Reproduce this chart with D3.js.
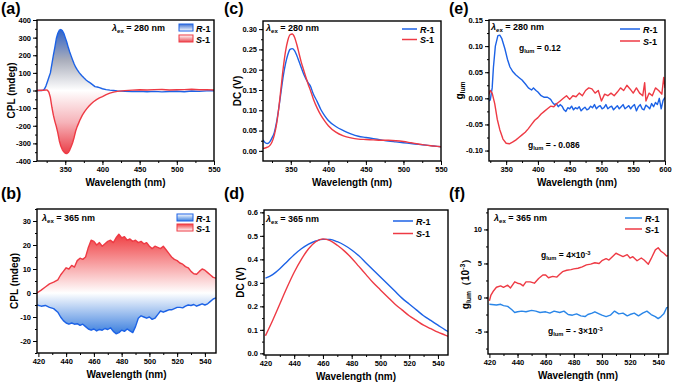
<!DOCTYPE html>
<html>
<head>
<meta charset="utf-8">
<script src="https://cdn.jsdelivr.net/npm/d3@7"></script>
<style>
body { margin: 0; background: #fff; }
text { font-family: "Liberation Sans", Arial, sans-serif; font-weight: bold; fill: #000; }
</style>
</head>
<body>
<div id="chart"></div>
<script>
// ---------- data ----------
// (a) CPL, excitation 280 nm
const aWlR  = [312,318,320,322,324,326,328,330,332,334,336,338,340,342,344,346,348,350,352,354,356,358,360,362,364,366,369,372,375,378,381,384,387,390,393,396,400,405,410,415,420,430,440,450,460,470,480,490,500,510,520,530,540,550];
const aCplR = [0,0,1,8,25,50,75,100,150,200,245,295,325,342,346,340,325,300,275,245,218,195,172,150,132,118,100,85,72,60,50,42,32,22,20,16,10,5,2,0,-2,-4,-6,-5,-7,-5,-8,-6,-4,-7,-3,-5,-2,-1];
const aWlS  = [312,320,324,326,328,330,332,334,336,338,340,342,344,346,348,350,352,354,356,358,360,362,364,366,368,370,373,376,379,382,385,388,392,396,400,405,410,415,420,430,440,450,460,470,480,490,500,510,520,530,540,550];
const aCplS = [0,1,3,2,-10,-40,-95,-140,-175,-205,-240,-285,-315,-335,-348,-356,-358,-352,-338,-318,-295,-265,-230,-205,-185,-165,-140,-120,-103,-88,-75,-64,-52,-42,-35,-24,-15,-9,-5,-1,2,4,3,5,6,3,4,5,7,4,5,3];

// (c) DC, excitation 280 nm
const cWl  = [313,316,319,322,325,328,331,334,337,340,343,346,349,352,355,358,361,364,367,370,373,376,380,385,390,395,400,410,420,430,440,450,460,470,480,490,500,510,520,530,540,550];
const cDcR = [0.027,0.020,0.018,0.022,0.032,0.045,0.070,0.105,0.145,0.185,0.215,0.237,0.250,0.252,0.247,0.235,0.220,0.205,0.190,0.178,0.168,0.160,0.140,0.122,0.102,0.087,0.075,0.060,0.050,0.042,0.036,0.033,0.030,0.027,0.024,0.022,0.020,0.018,0.016,0.014,0.012,0.010];
const cDcS = [0.006,0.007,0.009,0.013,0.022,0.038,0.065,0.105,0.155,0.205,0.245,0.272,0.286,0.288,0.280,0.262,0.240,0.218,0.200,0.182,0.165,0.150,0.128,0.106,0.088,0.074,0.062,0.046,0.037,0.032,0.029,0.028,0.027,0.026,0.026,0.025,0.023,0.020,0.017,0.014,0.012,0.010];

// (e) glum, excitation 280 nm
const eWlR = [323,325,328,330,333,337,340,343,348,352,356,360,365,370,375,380,385,390,393,397,400,405,410,415,420,423,426,429,432,435,438,441,444,447,450,453,456,459,462,465,468,471,474,477,480,483,486,489,492,495,498,501,504,507,510,513,516,519,522,525,528,531,534,537,540,543,546,549,552,555,558,561,564,567,570,573,576,579,582,585,588,591,594,597,600];
const eGR  = [-0.005,-0.003,0.02,0.06,0.1,0.12,0.121,0.115,0.095,0.075,0.06,0.052,0.045,0.04,0.035,0.028,0.02,0.016,0.02,0.015,0.012,0.005,0.002,0.002,-0.002,-0.008,-0.012,-0.01,-0.016,-0.012,-0.015,-0.022,-0.025,-0.018,-0.02,-0.015,-0.022,-0.018,-0.02,-0.016,-0.024,-0.02,-0.017,-0.022,-0.02,-0.015,-0.018,-0.012,-0.02,-0.016,-0.014,-0.02,-0.018,-0.012,-0.02,-0.017,-0.015,-0.022,-0.018,-0.014,-0.02,-0.016,-0.012,-0.02,-0.017,-0.014,-0.02,-0.015,-0.012,-0.024,-0.016,-0.012,-0.02,-0.022,-0.013,-0.016,-0.02,-0.01,-0.016,-0.008,-0.012,0.0,-0.02,-0.004,0.002];
const eWlS = [322,325,328,332,336,340,345,350,355,360,365,370,375,380,385,390,395,400,405,410,415,420,425,430,435,440,445,450,455,460,465,470,475,480,485,490,495,500,505,510,515,520,525,530,535,540,545,550,555,560,565,568,570,575,580,585,590,595,598,600];
const eGS  = [0.005,0.015,0.01,-0.01,-0.04,-0.06,-0.078,-0.086,-0.087,-0.084,-0.08,-0.075,-0.07,-0.065,-0.058,-0.05,-0.042,-0.037,-0.03,-0.025,-0.02,-0.015,-0.016,-0.01,-0.005,0.0,0.005,-0.002,0.005,0.003,0.01,0.005,0.015,0.02,0.018,0.01,0.015,-0.005,0.008,0.005,0.01,0.005,0.012,0.02,0.015,0.025,0.018,0.01,0.02,0.01,0.005,0.03,-0.005,0.01,0.005,0.02,0.015,0.008,0.04,0.02];

// (b) CPL, excitation 365 nm
const bWl   = [419,422,425,428,431,434,436,438,440,442,444,446,448,450,452,454,456,458,460,462,464,466,468,470,472,474,476,478,480,482,484,486,488,490,492,494,496,498,500,502,504,506,508,510,512,514,516,518,520,522,524,526,528,530,532,534,536,538,540,542,544,546,548];
const bCplS = [0,1.2,2.5,3.8,4.5,5.5,7.5,9,10.5,10,11.5,10.8,13.5,14.5,14,15,19,22,21.5,20,21,19.5,20.5,21.5,22,21,23,24.5,23,23.5,22,22.5,21.5,22,21,21.5,20.5,21,19.5,18.5,19.5,19,18.5,19.5,18,16.5,15,14,13.5,12.5,12,11,10.5,9,8,7.8,9,10,9.5,8.5,7.5,6.5,6.2];
const bCplR = [-5,-5.5,-5.2,-6,-6.5,-8,-10,-11.5,-12.5,-13,-12.5,-13,-12.8,-13.5,-13,-14,-15,-15.5,-15,-15.8,-15.2,-15.5,-14.8,-15.2,-14.5,-16,-17,-16.5,-15.5,-16,-15,-15.8,-16.5,-14,-10.5,-9.5,-10,-10.5,-10,-11,-10.5,-9,-7.5,-8,-7.5,-7,-7,-6.5,-6,-6,-6.2,-5.5,-5,-5.2,-4.8,-5.5,-5,-4.5,-5,-4.5,-3.5,-2.5,-2];

// (d) DC, excitation 365 nm
const dWl  = [420,425,430,435,440,445,450,455,460,465,470,475,480,485,490,495,500,505,510,515,520,525,530,535,540,545,548];
const dDcR = [0.32,0.335,0.36,0.39,0.42,0.445,0.465,0.478,0.485,0.485,0.475,0.46,0.44,0.415,0.385,0.355,0.325,0.295,0.265,0.235,0.21,0.185,0.16,0.14,0.12,0.1,0.09];
const dDcS = [0.075,0.14,0.21,0.28,0.345,0.4,0.445,0.475,0.487,0.48,0.46,0.435,0.405,0.37,0.335,0.3,0.27,0.24,0.21,0.185,0.16,0.14,0.12,0.105,0.09,0.078,0.07];

// (f) glum x 10^-3, excitation 365 nm
const fWlS = [420,421,423,425,428,430,433,435,438,440,442,444,446,449,452,455,458,460,462,465,468,470,472,475,478,480,483,486,489,492,495,498,500,503,505,508,510,512,515,518,520,522,525,528,530,533,535,538,540,542,544,546,548];
const fGS  = [-0.5,0.3,1.0,1.5,1.7,1.5,1.8,1.4,2.3,2.1,2.0,1.7,2.3,2.3,2.1,2.8,3.3,3.3,2.9,3.1,3.0,3.4,3.8,4.0,4.1,4.2,4.3,4.5,4.8,4.9,5.1,5.0,5.4,5.7,5.5,6.1,6.5,6.3,6.0,6.3,5.8,6.0,5.4,5.8,5.5,4.9,5.7,7.0,7.3,6.8,6.5,6.1,6.2];
const fWlR = [420,425,428,430,433,436,438,440,443,446,450,453,456,460,463,466,470,473,476,479,482,485,488,490,493,495,498,500,503,506,509,512,515,518,520,523,526,529,532,535,538,540,542,544,546,548];
const fGR  = [-1.0,-1.1,-1.0,-1.2,-1.3,-1.8,-2.2,-2.1,-2.0,-2.1,-1.9,-2.0,-2.2,-2.1,-2.3,-2.0,-2.2,-2.0,-2.5,-2.6,-2.4,-2.7,-2.8,-2.5,-2.3,-2.1,-2.4,-2.6,-2.8,-2.6,-2.0,-2.4,-2.3,-2.7,-2.5,-2.3,-2.7,-2.3,-2.0,-2.5,-2.8,-3.1,-2.8,-2.4,-1.5,-1.4];

const BLUE = "#1c62e6", RED = "#ee3a44";

// ---------- svg ----------
const width = 673, height = 384;
const svg = d3.select("#chart").append("svg")
    .attr("width", width).attr("height", height);
const defs = svg.append("defs");

function zip(xs, ys) { return xs.map((d, i) => [d, ys[i]]); }

function gradient(id, x1, y1, x2, y2, stops, user) {
    const g = defs.append("linearGradient").attr("id", id)
        .attr("x1", x1).attr("y1", y1).attr("x2", x2).attr("y2", y2);
    if (user) g.attr("gradientUnits", "userSpaceOnUse");
    stops.forEach(s => g.append("stop").attr("offset", s[0]).attr("stop-color", s[1]));
}

// text with sub/superscripts and italics
function rich(g, x, y, parts, size, anchor) {
    const t = g.append("text").attr("x", x).attr("y", y)
        .attr("font-size", size).attr("text-anchor", anchor || "start");
    parts.forEach(p => {
        const s = t.append("tspan").text(p.t);
        if (p.i) s.attr("font-style", "italic");
        if (p.sub) s.attr("font-size", size * 0.68).attr("baseline-shift", "-25%");
        if (p.sup) s.attr("font-size", size * 0.68).attr("baseline-shift", "55%");
    });
    return t;
}

const lamb = nm => [{t: "λ", i: 1}, {t: "ex", sub: 1}, {t: " = " + nm + " nm"}];
const lbl = n => [{t: n, i: 1}, {t: "-1"}];

function range(a, b, s) { return d3.range(a, b + s / 2, s); }

function panel(cfg) {
    const g = svg.append("g");
    const x = d3.scaleLinear().domain(cfg.xDom).range([cfg.l, cfg.r]);
    const y = d3.scaleLinear().domain(cfg.yDom).range([cfg.b, cfg.t]);

    defs.append("clipPath").attr("id", "clip" + cfg.id)
        .append("rect").attr("x", cfg.l).attr("y", cfg.t)
        .attr("width", cfg.r - cfg.l).attr("height", cfg.b - cfg.t);
    const plot = g.append("g").attr("clip-path", `url(#clip${cfg.id})`);

    const line = d3.line().x(d => x(d[0])).y(d => y(d[1]))
        .curve(cfg.smooth ? d3.curveMonotoneX : d3.curveLinear);

    cfg.series.forEach((s, k) => {
        if (s.fill) {
            const gid = "grad" + cfg.id + k;
            const peak = d3.extent(s.data, d => d[1]);
            const ext = Math.abs(peak[0]) > Math.abs(peak[1]) ? peak[0] : peak[1];
            gradient(gid, 0, y(0), 0, y(ext), s.fill, true);
            plot.append("path").datum(s.data)
                .attr("fill", `url(#${gid})`)
                .attr("d", d3.area().x(d => x(d[0])).y0(y(0)).y1(d => y(d[1])));
        }
    });
    cfg.series.forEach(s => {
        plot.append("path").datum(s.data)
            .attr("fill", "none").attr("stroke", s.color)
            .attr("stroke-width", 1.4).attr("stroke-linejoin", "round")
            .attr("d", line);
    });

    // axes, ticks outward like the original
    const fmt = cfg.yFmt ? d3.format(cfg.yFmt) : (d => String(d));
    const xa = g.append("g").attr("transform", `translate(0,${cfg.b})`);
    xa.append("g").call(d3.axisBottom(x).tickValues(cfg.xMinor).tickSize(2).tickFormat(""));
    xa.append("g").call(d3.axisBottom(x).tickValues(cfg.xMajor).tickSize(4).tickPadding(2)
        .tickFormat(d => String(d)));
    const ya = g.append("g").attr("transform", `translate(${cfg.l},0)`);
    ya.append("g").call(d3.axisLeft(y).tickValues(cfg.yMinor).tickSize(2).tickFormat(""));
    ya.append("g").call(d3.axisLeft(y).tickValues(cfg.yMajor).tickSize(4).tickPadding(2)
        .tickFormat(d => fmt(d).replace("−", "-")));
    g.selectAll(".domain").remove();
    g.selectAll(".tick line").attr("stroke", "#000").attr("stroke-width", 1);
    g.selectAll(".tick text").attr("font-size", 7.5).attr("font-family", null);

    g.append("rect").attr("x", cfg.l).attr("y", cfg.t)
        .attr("width", cfg.r - cfg.l).attr("height", cfg.b - cfg.t)
        .attr("fill", "none").attr("stroke", "#000").attr("stroke-width", 1.4);

    // titles
    g.append("text").attr("x", (cfg.l + cfg.r) / 2).attr("y", cfg.b + 25)
        .attr("text-anchor", "middle").attr("font-size", 10).text("Wavelength (nm)");
    rich(g, 0, 0, cfg.yTitle, 10, "middle")
        .attr("transform", `translate(${cfg.yTx},${(cfg.t + cfg.b) / 2}) rotate(-90)`);
    g.append("text").attr("x", cfg.px).attr("y", cfg.py)
        .attr("font-size", 16).text(cfg.tag);

    rich(g, cfg.lamb[0], cfg.lamb[1], lamb(cfg.lamb[2]), 9);
    (cfg.notes || []).forEach(n => rich(g, n[0], n[1], n[2], 8.5));

    // legend
    cfg.series.forEach((s, k) => {
        const ly = cfg.leg[1] + k * cfg.leg[3];
        if (s.box) {
            const gid = "lg" + cfg.id + k;
            gradient(gid, 0, 0, 0, 1, s.box);
            g.append("rect").attr("x", cfg.leg[0]).attr("y", ly - 4)
                .attr("width", cfg.leg[2]).attr("height", 7)
                .attr("fill", `url(#${gid})`).attr("stroke", s.color).attr("stroke-width", 1);
        } else {
            g.append("line").attr("x1", cfg.leg[0]).attr("x2", cfg.leg[0] + cfg.leg[2])
                .attr("y1", ly).attr("y2", ly).attr("stroke", s.color).attr("stroke-width", 1.5);
        }
        rich(g, cfg.leg[0] + cfg.leg[2] + 3, ly + 3.5, lbl(s.name), 9);
    });
}

const cplTitle = [{t: "CPL (mdeg)"}];
const dcTitle = [{t: "DC (V)"}];

panel({
    id: "a", tag: "(a)", px: 1, py: 14, l: 37, r: 214, t: 20, b: 161,
    xDom: [312, 550], yDom: [-400, 400],
    xMajor: range(350, 550, 50), xMinor: range(325, 550, 25),
    yMajor: range(-400, 400, 100), yMinor: range(-400, 400, 50),
    yTitle: cplTitle, yTx: 15, lamb: [112, 31, 280],
    leg: [179, 28, 14, 11],
    series: [
        {name: "R", color: BLUE, data: zip(aWlR, aCplR),
         fill: [[0, "#ffffff"], [0.5, "#a9adbb"], [1, "#2f62c8"]],
         box: [[0, "#3d6fd0"], [1, "#ffffff"]]},
        {name: "S", color: RED, data: zip(aWlS, aCplS),
         fill: [[0, "#ffffff"], [0.5, "#f6b4ba"], [1, "#ea3f48"]],
         box: [[0, "#ffffff"], [1, "#ea4a52"]]}
    ]
});

panel({
    id: "c", tag: "(c)", px: 224, py: 14, l: 263, r: 441, t: 21, b: 161, smooth: 1,
    xDom: [313, 550], yDom: [-0.025, 0.32], yFmt: ".2f",
    xMajor: range(350, 550, 50), xMinor: range(325, 550, 25),
    yMajor: range(0, 0.30, 0.05), yMinor: range(0, 0.30, 0.025),
    yTitle: dcTitle, yTx: 241, lamb: [266, 31, 280],
    leg: [402, 29, 15, 10.5],
    series: [
        {name: "R", color: BLUE, data: zip(cWl, cDcR)},
        {name: "S", color: RED, data: zip(cWl, cDcS)}
    ]
});

panel({
    id: "e", tag: "(e)", px: 449, py: 14, l: 489, r: 665, t: 20, b: 161,
    xDom: [323, 600], yDom: [-0.12, 0.15], yFmt: ".2f",
    xMajor: range(350, 600, 50), xMinor: range(325, 600, 25),
    yMajor: range(-0.10, 0.15, 0.05), yMinor: range(-0.10, 0.15, 0.025),
    yTitle: [{t: "g"}, {t: "lum", sub: 1}], yTx: 463, lamb: [491, 30, 280],
    notes: [[519, 51, [{t: "g"}, {t: "lum", sub: 1}, {t: " = 0.12"}]],
            [528, 148, [{t: "g"}, {t: "lum", sub: 1}, {t: " = - 0.086"}]]],
    leg: [620, 29, 20, 12],
    series: [
        {name: "R", color: BLUE, data: zip(eWlR, eGR)},
        {name: "S", color: RED, data: zip(eWlS, eGS)}
    ]
});

panel({
    id: "b", tag: "(b)", px: 1, py: 199, l: 37, r: 216, t: 209, b: 353,
    xDom: [419, 548], yDom: [-25, 35],
    xMajor: range(420, 540, 20), xMinor: range(430, 540, 10),
    yMajor: range(-20, 30, 10), yMinor: range(-25, 35, 5),
    yTitle: cplTitle, yTx: 18, lamb: [42, 221, 365],
    leg: [177, 218, 16, 10],
    series: [
        {name: "R", color: BLUE, data: zip(bWl, bCplR),
         fill: [[0, "#ffffff"], [1, "#3a7ede"]],
         box: [[0, "#ffffff"], [1, "#3a7ede"]]},
        {name: "S", color: RED, data: zip(bWl, bCplS),
         fill: [[0, "#ffffff"], [1, "#ef3e42"]],
         box: [[0, "#ef3e42"], [1, "#ffffff"]]}
    ]
});

panel({
    id: "d", tag: "(d)", px: 224, py: 199, l: 264, r: 448, t: 210, b: 355, smooth: 1,
    xDom: [419, 547], yDom: [-0.007, 0.61], yFmt: ".1f",
    xMajor: range(420, 540, 20), xMinor: range(430, 540, 10),
    yMajor: range(0, 0.6, 0.1), yMinor: range(0, 0.6, 0.05),
    yTitle: dcTitle, yTx: 244, lamb: [266, 222, 365],
    leg: [393, 221, 20, 12.5],
    series: [
        {name: "R", color: BLUE, data: zip(dWl, dDcR)},
        {name: "S", color: RED, data: zip(dWl, dDcS)}
    ]
});

panel({
    id: "f", tag: "(f)", px: 449, py: 199, l: 488, r: 668, t: 209, b: 354,
    xDom: [419, 547], yDom: [-8.3, 13],
    xMajor: range(420, 540, 20), xMinor: range(430, 540, 10),
    yMajor: range(-5, 10, 5), yMinor: range(-7.5, 12.5, 2.5),
    yTitle: [{t: "g"}, {t: "lum", sub: 1}, {t: "（10"}, {t: "-3", sup: 1}, {t: "）"}], yTx: 469,
    lamb: [494, 221, 365],
    notes: [[541, 258, [{t: "g"}, {t: "lum", sub: 1}, {t: " = 4×10"}, {t: "-3", sup: 1}]],
            [548, 334, [{t: "g"}, {t: "lum", sub: 1}, {t: " = - 3×10"}, {t: "-3", sup: 1}]]],
    leg: [625, 218, 17, 11],
    series: [
        {name: "R", color: "#2a86e8", data: zip(fWlR, fGR)},
        {name: "S", color: RED, data: zip(fWlS, fGS)}
    ]
});
</script>
</body>
</html>
